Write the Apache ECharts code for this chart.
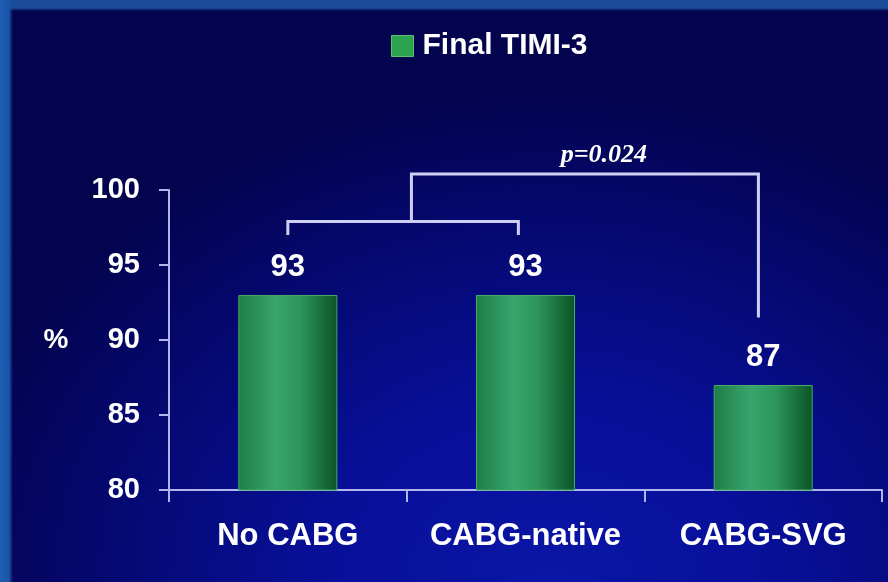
<!DOCTYPE html>
<html>
<head>
<meta charset="utf-8">
<script src="https://cdn.jsdelivr.net/npm/echarts@6/dist/echarts.min.js"></script>
<style>
  html, body { margin: 0; padding: 0; }
  body {
    width: 888px; height: 582px; overflow: hidden;
    background:
      linear-gradient(to right, #1f5fb4 0px, #1a54a6 9px, rgba(26,84,166,0) 13px),
      linear-gradient(to bottom, #1b4c9c 0px, #1a4a98 8px, rgba(26,74,152,0) 11px),
      radial-gradient(ellipse 70% 85% at 62% 100%, #0b16a6 0%, #08109a 35%, #050a78 65%, #03034e 100%);
  }
  #chart { width: 888px; height: 582px; }
</style>
</head>
<body>
<div id="chart"></div>
<script>
// Final TIMI-3 flow by CABG status
const categories = ['No CABG', 'CABG-native', 'CABG-SVG'];
const finalTimi3 = [93, 93, 87];
const seriesName = 'Final TIMI-3';
const yMin = 80, yMax = 100, yStep = 5;

// Significance bracket (x in category units, y in %)
const innerBracket = [[0, 97.0], [0, 97.9], [0.97, 97.9], [0.97, 97.0]];
const outerBracket = [[0.52, 97.9], [0.52, 101.07], [1.98, 101.07], [1.98, 91.5]];
const pValueText = 'p=0.024';
const pValuePos = [1.33, 101.07];

const chart = echarts.init(document.getElementById('chart'), null, { renderer: 'canvas' });

const white = '#ffffff';
const axisColor = '#b4b4ec';
const labelFont = '"Liberation Sans", Arial, sans-serif';

const barFill = {
  type: 'linear', x: 0, y: 0, x2: 1, y2: 0,
  colorStops: [
    { offset: 0, color: '#1f7d47' },
    { offset: 0.38, color: '#38a56c' },
    { offset: 0.62, color: '#2e955b' },
    { offset: 1, color: '#0b5426' }
  ]
};

chart.setOption({
  backgroundColor: 'transparent',
  animation: false,
  legend: {
    data: [seriesName],
    left: 386, top: 26,
    itemWidth: 22, itemHeight: 21,
    icon: 'rect',
    itemStyle: { color: '#2da24f', borderColor: '#55c070', borderWidth: 1 },
    textStyle: {
      color: white, fontFamily: labelFont, fontWeight: 'bold', fontSize: 30,
      padding: [0, 0, 0, 4]
    }
  },
  grid: { left: 169, right: 6, top: 190, bottom: 92, containLabel: false },
  xAxis: [
    {
      type: 'category',
      data: categories,
      axisLine: { onZero: false, lineStyle: { color: axisColor, width: 2 } },
      axisTick: { show: true, interval: 0, length: 12, lineStyle: { color: axisColor, width: 2 } },
      axisLabel: {
        interval: 0,
        color: white, fontFamily: labelFont, fontWeight: 'bold', fontSize: 31,
        lineHeight: 32, margin: 30
      }
    },
    {
      type: 'value', min: -0.5, max: 2.5, show: false
    }
  ],
  yAxis: {
    type: 'value',
    min: yMin, max: yMax, interval: yStep,
    name: '%',
    nameLocation: 'middle',
    nameRotate: 0,
    nameGap: 113,
    nameTextStyle: {
      color: white, fontFamily: labelFont, fontWeight: 'bold', fontSize: 28, align: 'center'
    },
    axisLine: { show: true, onZero: false, lineStyle: { color: axisColor, width: 2 } },
    axisTick: { show: true, length: 10, lineStyle: { color: axisColor, width: 2 } },
    splitLine: { show: false },
    axisLabel: {
      color: white, fontFamily: labelFont, fontWeight: 'bold', fontSize: 29, margin: 29
    }
  },
  series: [
    {
      name: seriesName,
      type: 'bar',
      data: finalTimi3,
      barWidth: 99,
      itemStyle: { color: barFill, borderColor: '#3fae62', borderWidth: 1 },
      label: {
        show: true, position: 'top', distance: 12,
        color: white, fontFamily: labelFont, fontWeight: 'bold', fontSize: 31
      }
    },
    {
      type: 'custom',
      xAxisIndex: 1,
      yAxisIndex: 0,
      clip: false,
      silent: true,
      data: [0],
      renderItem: function (params, api) {
        const toPts = arr => arr.map(p => api.coord(p));
        const lineStyle = { stroke: '#cfcff4', lineWidth: 3, fill: null };
        const pPos = api.coord(pValuePos);
        return {
          type: 'group',
          children: [
            { type: 'polyline', shape: { points: toPts(innerBracket) }, style: lineStyle },
            { type: 'polyline', shape: { points: toPts(outerBracket) }, style: lineStyle },
            {
              type: 'text',
              x: pPos[0], y: pPos[1] - 6,
              style: {
                text: pValueText,
                fill: white,
                font: 'italic bold 26px "Liberation Serif", "Times New Roman", serif',
                align: 'center', verticalAlign: 'bottom'
              }
            }
          ]
        };
      }
    }
  ]
});
</script>
</body>
</html>
